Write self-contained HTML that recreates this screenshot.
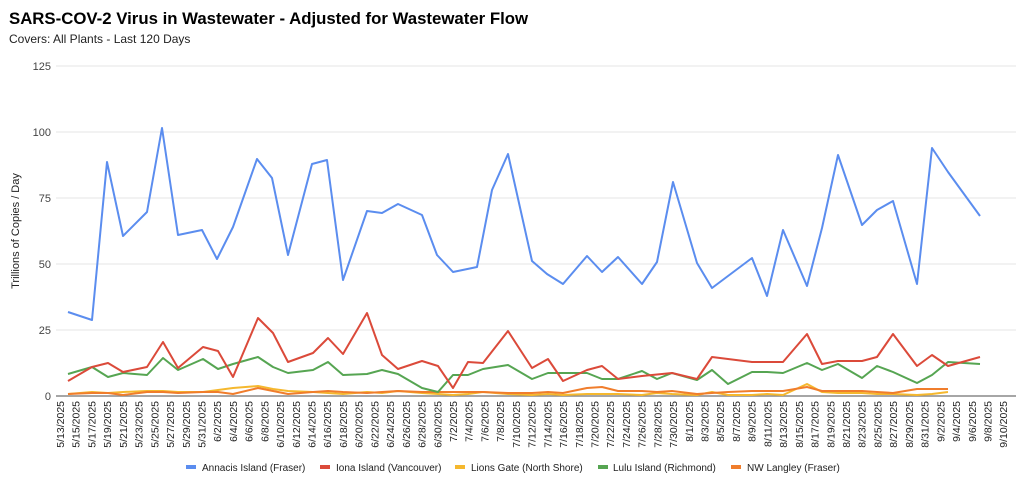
<!DOCTYPE html>
<html><head><meta charset="utf-8"><style>
body{margin:0;background:#fff;}
svg{display:block;font-family:"Liberation Sans",Arial,sans-serif;}
</style></head><body>
<svg width="1024" height="485" viewBox="0 0 1024 485" xmlns="http://www.w3.org/2000/svg">
<text x="9" y="24" font-size="16.8" font-weight="bold" fill="#000">SARS-COV-2 Virus in Wastewater - Adjusted for Wastewater Flow</text>
<text x="9" y="43" font-size="12" fill="#222">Covers: All Plants - Last 120 Days</text>
<g stroke="#e6e6e6" stroke-width="1">
<line x1="56" x2="1016" y1="66" y2="66"/><line x1="56" x2="1016" y1="132" y2="132"/>
<line x1="56" x2="1016" y1="198" y2="198"/><line x1="56" x2="1016" y1="264" y2="264"/>
<line x1="56" x2="1016" y1="330" y2="330"/>
</g>
<line x1="56" x2="1016" y1="396" y2="396" stroke="#888" stroke-width="1.5"/>
<g font-size="11" fill="#444" text-anchor="end">
<text x="51" y="70">125</text><text x="51" y="136">100</text><text x="51" y="202">75</text>
<text x="51" y="268">50</text><text x="51" y="334">25</text><text x="51" y="400">0</text>
</g>
<text transform="translate(19,231) rotate(-90)" font-size="11" text-anchor="middle" fill="#222">Trillions of Copies / Day</text>
<g font-size="10.5" fill="#222" text-anchor="end" id="dates"></g>
<g fill="none" stroke-width="2" stroke-linejoin="round">
<polyline stroke="#f5b82e" points="68,394 92,392 108,393 123,392 147,391 163,391 178,392 203,392 218,390 233,388 258,386 273,389 288,391 313,392 328,393 343,394 367,392 382,393 398,391 422,393 438,394 453,395 468,394 483,392 508,394 532,395 548,394 563,395 587,394 602,394 618,394 642,395 657,393 672,394 697,395 712,392 728,395 752,395 767,394 783,395 807,384 822,392 838,393 862,393 877,394 893,394 917,395 932,394 948,392"/>
<polyline stroke="#f07d2c" points="68,394 92,393 108,393 123,395 147,392 163,392 178,393 203,392 218,392 233,394 258,388 273,391 288,394 313,392 328,391 343,392 367,393 382,392 398,391 422,392 438,392 453,392 468,392 483,392 508,393 532,393 548,392 563,393 587,388 602,387 618,391 642,391 657,392 672,391 697,394 712,393 728,392 752,391 767,391 783,391 807,387 822,391 838,391 862,391 877,392 893,393 917,389 932,389 948,389"/>
<polyline stroke="#56a552" points="68,374 92,367 108,377 123,373 147,375 163,358 178,370 203,359 218,369 233,364 258,357 273,367 288,373 313,370 328,362 343,375 367,374 382,370 398,374 422,388 438,392 453,375 468,375 483,369 508,365 532,379 548,373 563,373 587,373 602,379 618,379 642,371 657,379 672,373 697,380 712,370 728,384 752,372 767,372 783,373 807,363 822,370 838,364 862,378 877,366 893,372 917,383 932,375 948,362 980,364"/>
<polyline stroke="#db4a3a" points="68,381 92,367 108,363 123,372 147,367 163,342 178,368 203,347 218,351 233,377 258,318 273,333 288,362 313,353 328,338 343,354 367,313 382,355 398,369 422,361 438,366 453,388 468,362 483,363 508,331 532,368 548,359 563,381 587,370 602,366 618,379 642,376 672,373 697,379 712,357 752,362 767,362 783,362 807,334 822,364 838,361 862,361 877,357 893,334 917,366 932,355 948,366 980,357"/>
<polyline stroke="#5b8def" points="68,312 92,320 107,162 123,236 147,212 162,128 178,235 202,230 217,259 233,227 257,159 272,178 288,255 312,164 327,160 343,280 367,211 382,213 398,204 422,215 437,255 453,272 477,267 492,190 508,154 532,261 547,274 563,284 587,256 602,272 618,257 642,284 657,262 673,182 697,263 712,288 752,258 767,296 783,230 807,286 822,228 838,155 862,225 877,210 893,201 917,284 932,148 948,172 980,216"/>
</g>
<g font-size="10" fill="#222">
<rect x="186" y="465" width="10" height="4" fill="#5b8def"/><text x="202" y="471">Annacis Island (Fraser)</text>
<rect x="320" y="465" width="10" height="4" fill="#db4a3a"/><text x="336" y="471">Iona Island (Vancouver)</text>
<rect x="455" y="465" width="10" height="4" fill="#f5b82e"/><text x="471" y="471">Lions Gate (North Shore)</text>
<rect x="598" y="465" width="10" height="4" fill="#56a552"/><text x="613" y="471">Lulu Island (Richmond)</text>
<rect x="731" y="465" width="10" height="4" fill="#f07d2c"/><text x="747" y="471">NW Langley (Fraser)</text>
</g>
<script>
(function(){var g=document.getElementById('dates');var d=new Date(2025,4,13);
for(var i=0;i<61;i++){var x=60+15.72*i+4;var t=document.createElementNS('http://www.w3.org/2000/svg','text');
t.setAttribute('transform','translate('+x.toFixed(1)+',401) rotate(-90)');
t.textContent=(d.getMonth()+1)+'/'+d.getDate()+'/'+d.getFullYear();g.appendChild(t);d.setDate(d.getDate()+2);}})();
</script>
</svg>
</body></html>
